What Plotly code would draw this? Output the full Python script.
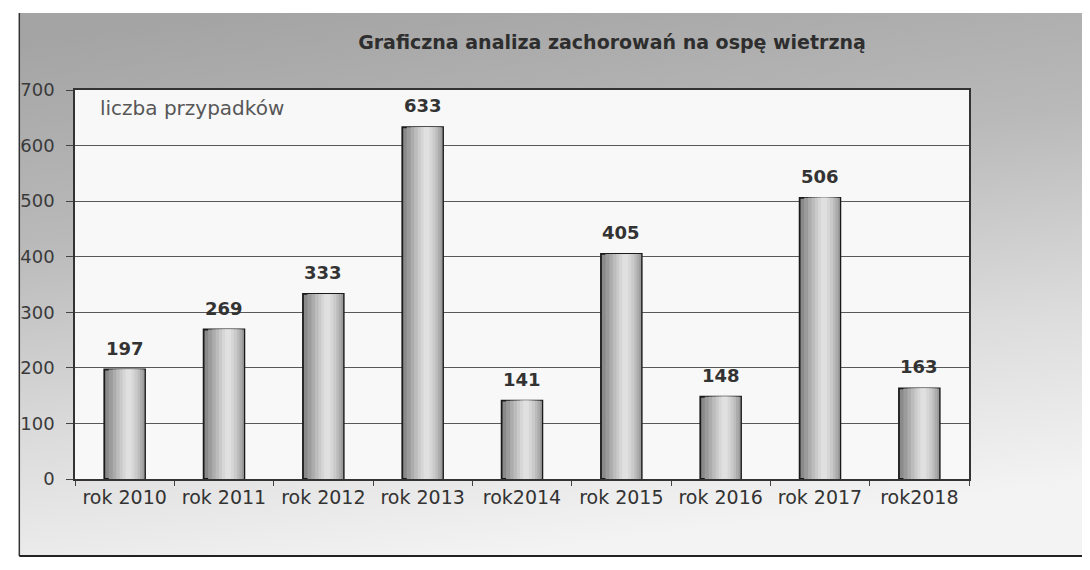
import base64
import plotly.graph_objects as go

# dane
lata = ["rok 2010", "rok 2011", "rok 2012", "rok 2013", "rok2014",
        "rok 2015", "rok 2016", "rok 2017", "rok2018"]
przypadki = [197, 269, 333, 633, 141, 405, 148, 506, 163]
y_ticks = [0, 100, 200, 300, 400, 500, 600, 700]

# page has an 8px body margin, so figure coords = page coords - 8
W, H = 1082, 554
L, R, T, B = 62, 121, 82, 83
pw, ph = W - L - R, H - T - B


def px_x(px):
    return (px - L) / pw


def px_y(py):
    return (H - B - py) / ph


# grey gradient behind the chart (svg data uri)
svg = """<svg xmlns='http://www.w3.org/2000/svg' width='100' height='100' preserveAspectRatio='none'>
<defs><linearGradient id='g' x1='0.2' y1='0' x2='0.45' y2='1'>
<stop offset='0' stop-color='#a4a4a4'/><stop offset='0.35' stop-color='#b9b9b9'/>
<stop offset='0.7' stop-color='#dcdcdc'/><stop offset='1' stop-color='#f3f3f3'/>
</linearGradient></defs><rect width='100' height='100' fill='url(#g)'/></svg>"""
bg_src = "data:image/svg+xml;base64," + base64.b64encode(svg.encode()).decode()

fig = go.Figure()

# bars: overlaid layers to fake the cylinder shading
layers = [(0.41, "#8a8a8a", 0.0), (0.36, "#9b9b9b", 0.02), (0.30, "#acacac", 0.03),
          (0.24, "#bcbcbc", 0.035), (0.18, "#cacaca", 0.04), (0.12, "#d6d6d6", 0.04),
          (0.06, "#e0e0e0", 0.04)]
for i, (w, col, sh) in enumerate(layers):
    outer = i == 0
    fig.add_trace(go.Bar(
        x=lata, y=przypadki, width=w, offset=-w / 2 + sh,
        marker=dict(color=col, line=dict(color="#1a1a1a", width=1.8 if outer else 0)),
        showlegend=False, hoverinfo="x+y" if outer else "skip",
    ))

# value labels above bars
annotations = [dict(x=k, y=v, text=str(v), xref="x", yref="y", yanchor="bottom",
                    yshift=9, showarrow=False,
                    font=dict(family="DejaVu Sans", size=18, color="#333333", weight="bold"))
               for k, v in zip(lata, przypadki)]
annotations.append(dict(text="liczba przypadków", xref="paper", yref="paper",
                        x=px_x(85), y=px_y(100), xanchor="left", yanchor="middle",
                        showarrow=False, font=dict(family="DejaVu Sans", size=20, color="#575757")))

fig.update_layout(
    width=W, height=H, barmode="overlay",
    margin=dict(l=L, r=R, t=T, b=B),
    paper_bgcolor="white", plot_bgcolor="rgba(0,0,0,0)",
    font=dict(family="DejaVu Sans", color="#333333"),
    title=dict(text="Graficzna analiza zachorowań na ospę wietrzną",
               x=604 / W, xref="container", xanchor="center",
               y=1 - 34 / H, yref="container", yanchor="middle",
               font=dict(family="DejaVu Sans", size=19, color="#2e2e2e", weight="bold")),
    images=[dict(source=bg_src, xref="paper", yref="paper",
                 x=px_x(6), y=px_y(5), sizex=px_x(W) - px_x(6), sizey=px_y(5) - px_y(548),
                 xanchor="left", yanchor="top", sizing="stretch", layer="below")],
    shapes=[
        dict(type="rect", xref="paper", yref="paper", x0=0, x1=1, y0=0, y1=1,
             fillcolor="#f8f8f8", line=dict(width=0), layer="below"),
        dict(type="line", xref="paper", yref="paper", x0=px_x(6), x1=px_x(6),
             y0=px_y(5), y1=px_y(548), line=dict(color="#333333", width=1.5)),
        dict(type="line", xref="paper", yref="paper", x0=px_x(6), x1=px_x(W),
             y0=px_y(548), y1=px_y(548), line=dict(color="#222222", width=2)),
    ],
    annotations=annotations,
)

fig.update_xaxes(
    showline=True, linecolor="#333333", linewidth=2, mirror=True,
    ticks="outside", tickson="boundaries", ticklen=5, tickcolor="#444444",
    tickfont=dict(family="DejaVu Sans", size=19, color="#333333"),
)
fig.update_yaxes(
    range=[0, 700], tickvals=y_ticks, showline=True, linecolor="#333333", linewidth=1.5,
    mirror=True, gridcolor="#585858", gridwidth=1.3, zeroline=False,
    ticks="outside", ticklen=7, tickcolor="#444444", ticklabelstandoff=8,
    tickfont=dict(family="DejaVu Sans", size=18, color="#3a3a3a"),
)

fig.write_html("out.html")
